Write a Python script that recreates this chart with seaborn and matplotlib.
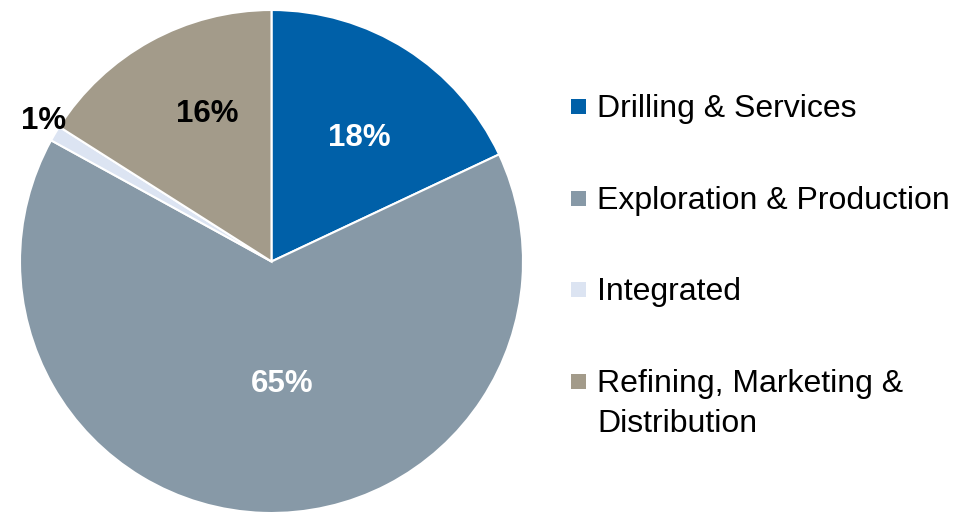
import numpy as np
import matplotlib
matplotlib.use("Agg")
import matplotlib.pyplot as plt
import seaborn as sns
from matplotlib.patches import Rectangle

# data
categories = ["Drilling & Services", "Exploration & Production", "Integrated",
              "Refining, Marketing &\nDistribution"]
shares = [18, 65, 1, 16]
colors = ["#0060A8", "#8799A7", "#DCE4F2", "#A39B8A"]
label_colors = ["white", "white", "black", "black"]

# label placement tweaks (distance from centre, angle nudge in degrees)
label_dist = [0.603, 0.49, 1.065, 0.64]
label_nudge = [-3.2, 6.9, -1.0, -5.4]

sns.set_theme(style="white")
plt.rcParams["font.family"] = ["Liberation Sans", "DejaVu Sans"]

W, H, DPI = 970, 513, 100
fig = plt.figure(figsize=(W / DPI, H / DPI), dpi=DPI)

# pie axes: centre (271.5, 261.5) px, radius 251.5 px
cx, cy, r = 271.5, 261.5, 251.5
ax = fig.add_axes([(cx - r) / W, (H - cy - r) / H, 2 * r / W, 2 * r / H])

wedges, _ = ax.pie(shares, colors=colors, startangle=90, counterclock=False,
                   wedgeprops=dict(edgecolor="white", linewidth=1.5))
ax.set_xlim(-1, 1)
ax.set_ylim(-1, 1)
ax.set_aspect("equal")
ax.axis("off")

# percentage labels
for i, w in enumerate(wedges):
    ang = np.deg2rad((w.theta1 + w.theta2) / 2 + label_nudge[i])
    d = label_dist[i]
    ax.text(d * np.cos(ang), d * np.sin(ang), f"{shares[i]}%",
            ha="center", va="center", fontsize=22.5, fontweight="bold",
            color=label_colors[i], clip_on=False)

# legend drawn by hand
for i, (cat, col) in enumerate(zip(categories, colors)):
    base = 117 + i * 91.7
    fig.patches.append(Rectangle((571 / W, (H - base + 3) / H), 15 / W, 15 / H,
                                 transform=fig.transFigure, facecolor=col,
                                 edgecolor="none"))
    for j, line in enumerate(cat.split("\n")):
        fig.text(597 / W, (H - base - j * 40) / H, line, ha="left",
                 va="baseline", fontsize=23, color="black")

fig.savefig("out.png", dpi=DPI, facecolor="white")
